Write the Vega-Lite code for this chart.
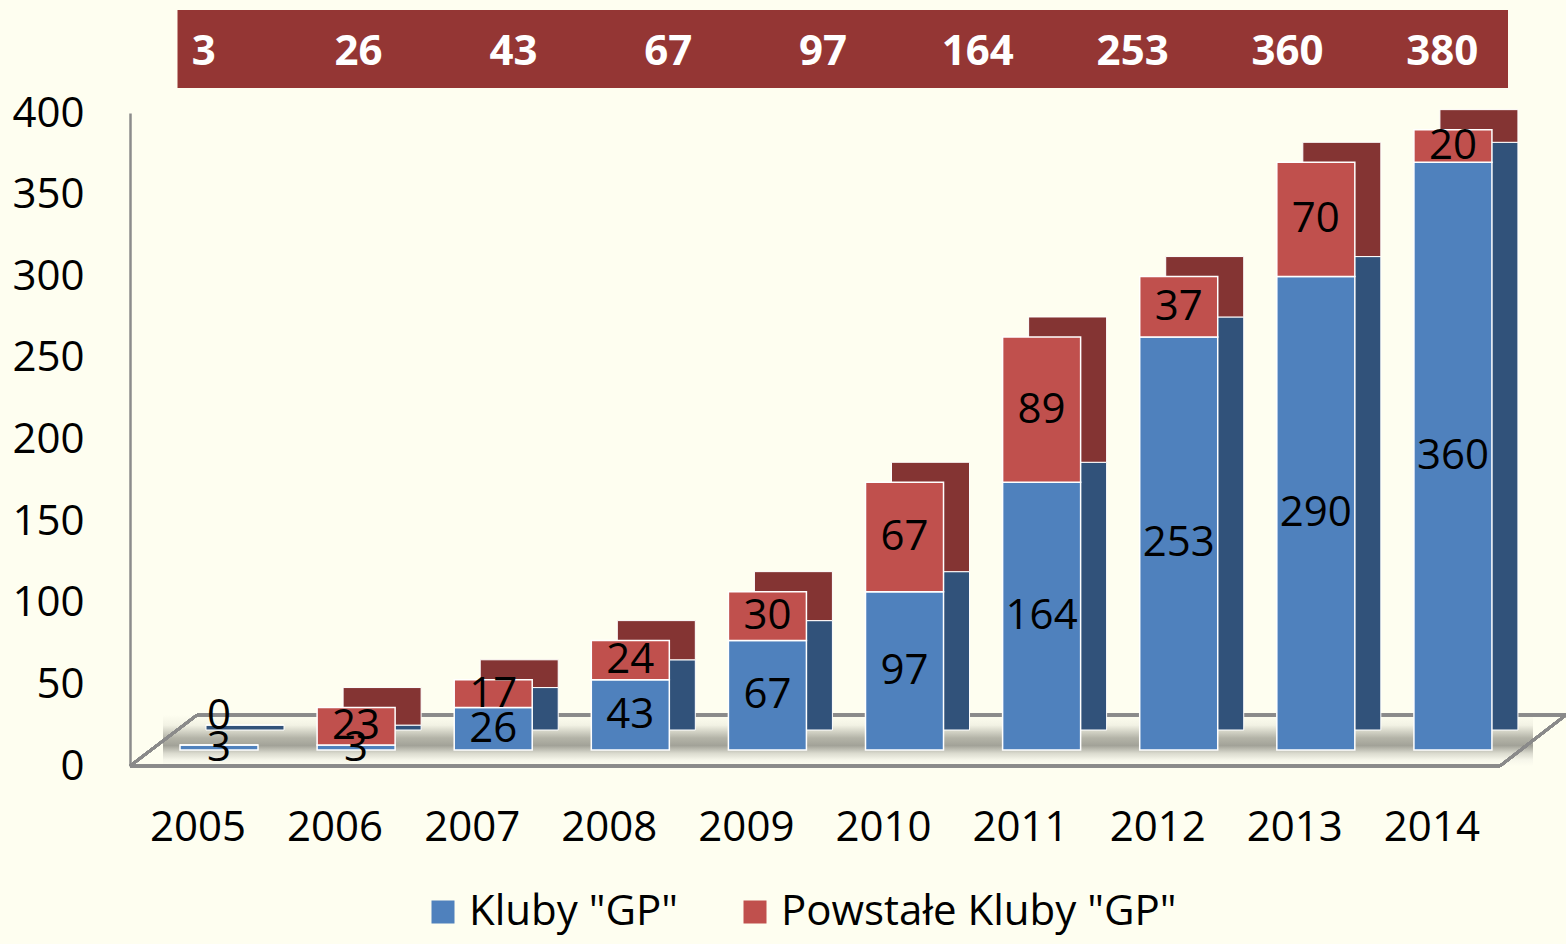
{
  "$schema": "https://vega.github.io/schema/vega-lite/v6.json",
  "width": 1436,
  "height": 653,
  "autosize": "none",
  "padding": {"left": 130, "top": 113, "right": 0, "bottom": 178},
  "background": "#fefef0",
  "config": {"view": {"stroke": null}, "font": "Open Sans"},
  "datasets": {
    "clubs": [
      {"year": 2005, "series": "Kluby \"GP\"", "value": 3},
      {"year": 2005, "series": "Powstałe Kluby \"GP\"", "value": 0},
      {"year": 2006, "series": "Kluby \"GP\"", "value": 3},
      {"year": 2006, "series": "Powstałe Kluby \"GP\"", "value": 23},
      {"year": 2007, "series": "Kluby \"GP\"", "value": 26},
      {"year": 2007, "series": "Powstałe Kluby \"GP\"", "value": 17},
      {"year": 2008, "series": "Kluby \"GP\"", "value": 43},
      {"year": 2008, "series": "Powstałe Kluby \"GP\"", "value": 24},
      {"year": 2009, "series": "Kluby \"GP\"", "value": 67},
      {"year": 2009, "series": "Powstałe Kluby \"GP\"", "value": 30},
      {"year": 2010, "series": "Kluby \"GP\"", "value": 97},
      {"year": 2010, "series": "Powstałe Kluby \"GP\"", "value": 67},
      {"year": 2011, "series": "Kluby \"GP\"", "value": 164},
      {"year": 2011, "series": "Powstałe Kluby \"GP\"", "value": 89},
      {"year": 2012, "series": "Kluby \"GP\"", "value": 253},
      {"year": 2012, "series": "Powstałe Kluby \"GP\"", "value": 37},
      {"year": 2013, "series": "Kluby \"GP\"", "value": 290},
      {"year": 2013, "series": "Powstałe Kluby \"GP\"", "value": 70},
      {"year": 2014, "series": "Kluby \"GP\"", "value": 360},
      {"year": 2014, "series": "Powstałe Kluby \"GP\"", "value": 20}
    ],
    "banner": [
      {"total": 3}, {"total": 26}, {"total": 43}, {"total": 67}, {"total": 97},
      {"total": 164}, {"total": 253}, {"total": 360}, {"total": 380}
    ]
  },
  "data": {"name": "clubs"},
  "resolve": {"scale": {"x": "independent"}},
  "layer": [
    {
      "layer": [
        {
          "mark": {
            "type": "rect",
            "fill": {
              "gradient": "linear", "x1": 0, "y1": 0, "x2": 0, "y2": 1,
              "stops": [
                {"offset": 0, "color": "#fefef0"},
                {"offset": 0.2, "color": "#f2f2e4"},
                {"offset": 0.45, "color": "#b4b4a8"},
                {"offset": 0.6, "color": "#a2a298"},
                {"offset": 0.75, "color": "#dadace"},
                {"offset": 0.88, "color": "#f6f6ea"},
                {"offset": 1, "color": "#fefef0"}
              ]
            }
          },
          "encoding": {
            "x": {"datum": 2005, "type": "ordinal", "bandPosition": -0.218},
            "x2": {"datum": 2014, "bandPosition": 1.526},
            "y": {"datum": 0, "type": "quantitative"},
            "y2": {"datum": 31.24}
          }
        },
        {
          "mark": {"type": "rule", "color": "#8a8a8a", "strokeWidth": 2.5},
          "encoding": {
            "x": {"datum": 2005, "type": "ordinal", "bandPosition": -0.641},
            "x2": {"datum": 2014, "bandPosition": 1.103},
            "y": {"datum": 0, "type": "quantitative"}
          }
        },
        {
          "mark": {"type": "rule", "color": "#8a8a8a", "strokeWidth": 2.5},
          "encoding": {
            "x": {"datum": 2005, "type": "ordinal", "bandPosition": 0.218},
            "x2": {"datum": 2014, "bandPosition": 1.949},
            "y": {"datum": 31.24, "type": "quantitative"}
          }
        },
        {
          "mark": {"type": "rule", "color": "#8a8a8a", "strokeWidth": 2.5},
          "encoding": {
            "x": {"datum": 2005, "type": "ordinal", "bandPosition": -0.641},
            "x2": {"datum": 2005, "bandPosition": 0.218},
            "y": {"datum": 0, "type": "quantitative"},
            "y2": {"datum": 31.24}
          }
        },
        {
          "mark": {"type": "rule", "color": "#8a8a8a", "strokeWidth": 2.5},
          "encoding": {
            "x": {"datum": 2014, "type": "ordinal", "bandPosition": 1.103},
            "x2": {"datum": 2014, "bandPosition": 1.949},
            "y": {"datum": 0, "type": "quantitative"},
            "y2": {"datum": 31.24}
          }
        },
        {
          "mark": {"type": "rect", "color": "#943634"},
          "encoding": {
            "x": {"datum": 2005, "type": "ordinal", "bandPosition": -0.026},
            "x2": {"datum": 2014, "bandPosition": 1.2},
            "y": {"datum": 415.3, "type": "quantitative"},
            "y2": {"datum": 463.1}
          }
        },
        {
          "mark": {"type": "bar", "xOffset": 26, "x2Offset": 26, "yOffset": -36, "y2Offset": -36, "stroke": "#ffffff", "strokeWidth": 1},
          "encoding": {
            "x": {"field": "year", "type": "ordinal"},
            "y": {"field": "value", "type": "quantitative", "stack": "zero"},
            "order": {"field": "series", "type": "nominal", "sort": "ascending"},
            "detail": {"field": "series", "type": "nominal"},
            "fill": {
              "condition": {"test": "datum.series === 'Kluby \"GP\"'", "value": "#31527a"},
              "value": "#843433"
            }
          }
        },
        {
          "mark": {"type": "bar", "yOffset": -16, "y2Offset": -16, "stroke": "#ffffff", "strokeWidth": 1.5},
          "encoding": {
            "x": {
              "field": "year", "type": "ordinal",
              "scale": {
                "domain": [2005, 2006, 2007, 2008, 2009, 2010, 2011, 2012, 2013, 2014],
                "paddingInner": 0.431, "paddingOuter": 0.4525, "align": 0.403
              },
              "axis": {
                "title": null, "domain": false, "ticks": false, "labelAngle": 0,
                "labelFont": "Open Sans", "labelFontSize": 42, "labelColor": "#000000",
                "labelOffset": 27, "labelPadding": 61
              }
            },
            "y": {
              "field": "value", "type": "quantitative", "stack": "zero",
              "scale": {"domain": [0, 400], "nice": false},
              "axis": {
                "title": null, "values": [0, 50, 100, 150, 200, 250, 300, 350, 400],
                "ticks": false, "grid": false, "domainColor": "#8c8c8c", "domainWidth": 2.5,
                "labelFont": "Open Sans", "labelFontSize": 42, "labelColor": "#000000",
                "labelPadding": 46
              }
            },
            "order": {"field": "series", "type": "nominal", "sort": "ascending"},
            "color": {
              "field": "series", "type": "nominal",
              "scale": {"domain": ["Kluby \"GP\"", "Powstałe Kluby \"GP\""], "range": ["#4f81bd", "#c0504d"]},
              "legend": {
                "title": null, "orient": "none", "direction": "horizontal",
                "legendX": 292, "legendY": 778,
                "symbolType": "square", "symbolSize": 529, "symbolStrokeWidth": 0,
                "labelFont": "Open Sans", "labelFontSize": 42, "labelColor": "#000000",
                "labelOffset": 5, "columnPadding": 56, "labelLimit": 600
              }
            }
          }
        },
        {
          "transform": [{"filter": "datum.value > 0"}],
          "mark": {"type": "text", "font": "Open Sans", "fontSize": 42, "color": "#000000", "baseline": "middle", "yOffset": -16},
          "encoding": {
            "x": {"field": "year", "type": "ordinal"},
            "y": {"field": "value", "type": "quantitative", "stack": "zero", "bandPosition": 0.5},
            "order": {"field": "series", "type": "nominal", "sort": "ascending"},
            "detail": {"field": "series", "type": "nominal"},
            "text": {"field": "value", "type": "quantitative"}
          }
        },
        {
          "transform": [{"filter": "datum.value == 0"}],
          "mark": {"type": "text", "font": "Open Sans", "fontSize": 42, "color": "#000000", "baseline": "middle", "yOffset": -50},
          "encoding": {
            "x": {"field": "year", "type": "ordinal"},
            "y": {"field": "value", "type": "quantitative", "stack": null},
            "text": {"field": "value", "type": "quantitative"}
          }
        }
      ]
    },
    {
      "data": {"name": "banner"},
      "mark": {"type": "text", "font": "Open Sans", "fontSize": 42, "fontWeight": "bold", "color": "#ffffff", "baseline": "middle"},
      "encoding": {
        "x": {
          "field": "total", "type": "ordinal",
          "scale": {"type": "point", "padding": 0.638, "align": 0.3735},
          "axis": null
        },
        "y": {"datum": 437.5, "type": "quantitative"},
        "text": {"field": "total", "type": "quantitative"}
      }
    }
  ]
}
